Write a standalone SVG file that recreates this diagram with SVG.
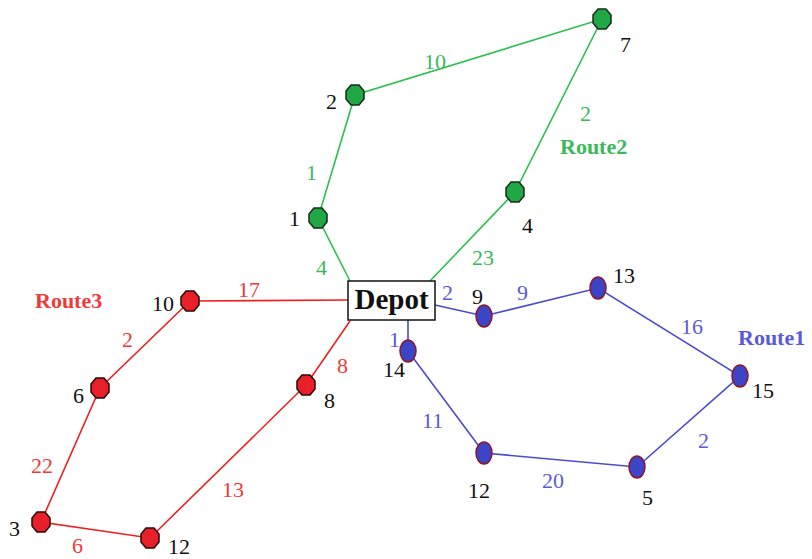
<svg xmlns="http://www.w3.org/2000/svg" width="812" height="559" viewBox="0 0 812 559">
<defs>
<style>
text{font-family:"Liberation Serif","Times New Roman",serif;font-size:22px}
.g{stroke:#2ec050;stroke-width:1.6;fill:none}
.r{stroke:#f02020;stroke-width:1.6;fill:none}
.b{stroke:#4a4ad0;stroke-width:1.6;fill:none}
.gn{fill:#1fa845;stroke:#1a2a1a;stroke-width:1.5}
.rn{fill:#e8202a;stroke:#2a0a0a;stroke-width:1.5}
.bn{fill:#3c44c8;stroke:#8a1a2a;stroke-width:1.5}
.gl{fill:#3bb85a}
.rl{fill:#f03a3a}
.bl{fill:#5a5ad8}
.nl{fill:#111}
.rt{font-weight:bold;font-size:22px}
</style>
<polygon id="oct" points="-4,-10 4,-10 9,-4 9,4 4,10 -4,10 -9,4 -9,-4"/>
</defs>
<g id="connectors">
<polyline class="g" points="350,281 318,218 355,95 602,19 515,192 430,281"/>
<polyline class="r" points="348,300 190,301 100,388 41,522 150,538 306,385 350,321"/>
<polyline class="b" points="435,305 484,316 598,288 740,376 637,467 484,453 408,351 408,320"/>
</g>
<g id="depot">
<rect x="348" y="281" width="87" height="39" fill="#fff" stroke="#111" stroke-width="1.5"/>
<text x="391.5" y="309" text-anchor="middle" style="font-weight:bold;font-size:29px" fill="#111">Depot</text>
</g>
<g id="g1"><use href="#oct" x="318" y="218" class="gn"/><text x="289" y="226" class="nl">1</text></g>
<g id="g2"><use href="#oct" x="355" y="95" class="gn"/><text x="326" y="109" class="nl">2</text></g>
<g id="g7"><use href="#oct" x="602" y="19" class="gn"/><text x="620" y="52" class="nl">7</text></g>
<g id="g4"><use href="#oct" x="515" y="192" class="gn"/><text x="522" y="233" class="nl">4</text></g>
<g id="r10"><use href="#oct" x="190" y="301" class="rn"/><text x="152" y="311" class="nl">10</text></g>
<g id="r6"><use href="#oct" x="100" y="388" class="rn"/><text x="73" y="403" class="nl">6</text></g>
<g id="r3"><use href="#oct" x="41" y="522" class="rn"/><text x="9" y="536" class="nl">3</text></g>
<g id="r12"><use href="#oct" x="150" y="538" class="rn"/><text x="168" y="554" class="nl">12</text></g>
<g id="r8"><use href="#oct" x="306" y="385" class="rn"/><text x="324" y="408" class="nl">8</text></g>
<g id="b9"><ellipse cx="484" cy="316" rx="8" ry="11" class="bn"/><text x="472" y="304" class="nl">9</text></g>
<g id="b13"><ellipse cx="598" cy="288" rx="8" ry="11" class="bn"/><text x="613" y="283" class="nl">13</text></g>
<g id="b15"><ellipse cx="740" cy="376" rx="8" ry="11" class="bn"/><text x="752" y="398" class="nl">15</text></g>
<g id="b5"><ellipse cx="637" cy="467" rx="8" ry="11" class="bn"/><text x="642" y="505" class="nl">5</text></g>
<g id="b12"><ellipse cx="484" cy="453" rx="8" ry="11" class="bn"/><text x="468" y="498" class="nl">12</text></g>
<g id="b14"><ellipse cx="408" cy="351" rx="8" ry="11" class="bn"/><text x="383" y="377" class="nl">14</text></g>
<g id="labels">
<text x="424" y="69" class="gl">10</text>
<text x="306" y="180" class="gl">1</text>
<text x="580" y="121" class="gl">2</text>
<text x="316" y="275" class="gl">4</text>
<text x="472" y="265" class="gl">23</text>
<text x="560" y="154" class="gl rt">Route2</text>
<text x="238" y="297" class="rl">17</text>
<text x="122" y="347" class="rl">2</text>
<text x="337" y="373" class="rl">8</text>
<text x="31" y="473" class="rl">22</text>
<text x="222" y="497" class="rl">13</text>
<text x="72" y="553" class="rl">6</text>
<text x="35" y="308" class="rl rt">Route3</text>
<text x="442" y="300" class="bl">2</text>
<text x="517" y="300" class="bl">9</text>
<text x="681" y="334" class="bl">16</text>
<text x="738" y="345" class="bl rt">Route1</text>
<text x="389" y="347" class="bl">1</text>
<text x="422" y="428" class="bl">11</text>
<text x="542" y="488" class="bl">20</text>
<text x="698" y="448" class="bl">2</text>
</g>
</svg>
